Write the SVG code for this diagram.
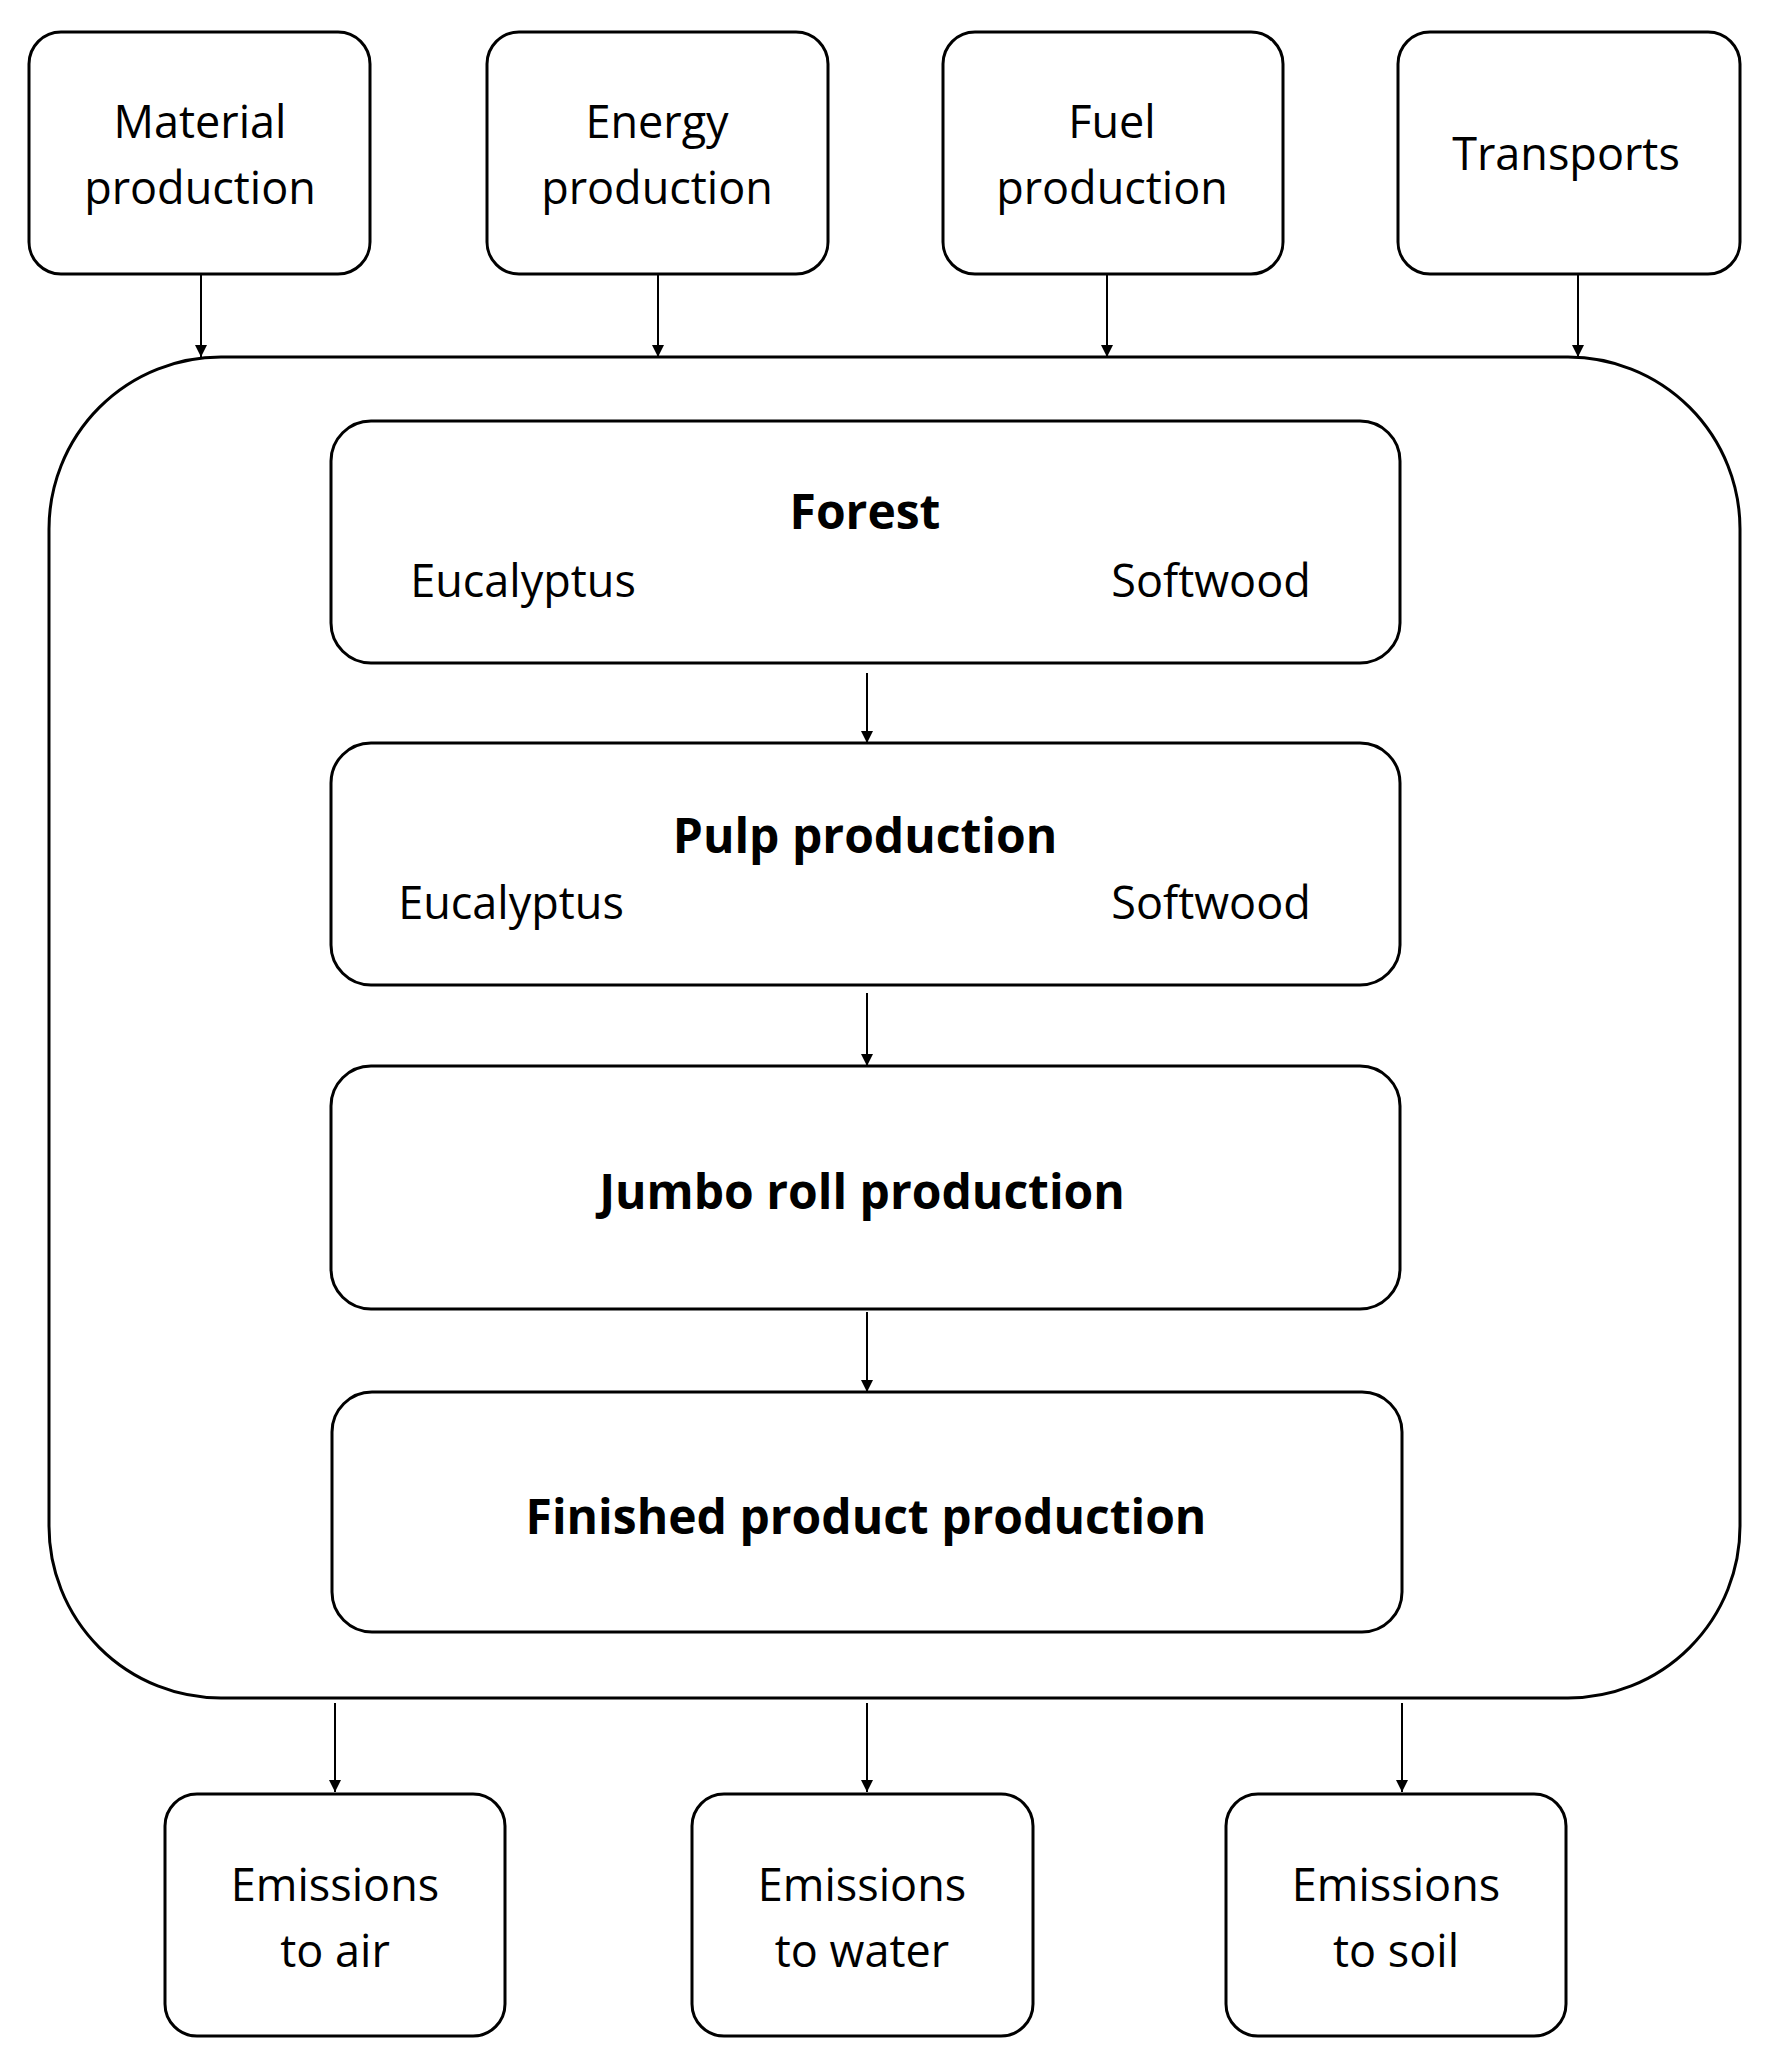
<svg xmlns="http://www.w3.org/2000/svg" width="1765" height="2059" viewBox="0 0 1765 2059">
<style>
.b{fill:#fff;stroke:#000;stroke-width:3}
.t{font-family:"Open Sans","Liberation Sans",sans-serif;font-size:45px;fill:#000;text-anchor:middle}
.h{font-weight:bold;font-size:48px}
.c line{stroke:#000;stroke-width:2;marker-end:url(#a)}
</style>
<defs><marker id="a" viewBox="0 0 10 10" refX="10" refY="5" markerWidth="12" markerHeight="12" markerUnits="userSpaceOnUse" orient="auto"><path d="M0,0L10,5L0,10z" fill="#000"/></marker>
</defs>
<rect width="1765" height="2059" fill="#fff"/>
<g id="system"><rect class="b" x="49" y="357" width="1691" height="1341" rx="172"/></g>
<g id="material"><rect class="b" x="29" y="32" width="341" height="242" rx="32"/><text class="t" x="200" y="138">Material</text><text class="t" x="200" y="204">production</text></g>
<g id="energy"><rect class="b" x="487" y="32" width="341" height="242" rx="32"/><text class="t" x="657" y="138">Energy</text><text class="t" x="657" y="204">production</text></g>
<g id="fuel"><rect class="b" x="943" y="32" width="340" height="242" rx="32"/><text class="t" x="1112" y="138">Fuel</text><text class="t" x="1112" y="204">production</text></g>
<g id="transports"><rect class="b" x="1398" y="32" width="342" height="242" rx="32"/><text class="t" x="1566" y="170">Transports</text></g>
<g id="forest"><rect class="b" x="331" y="421" width="1069" height="242" rx="40"/><text class="t h" x="865" y="529">Forest</text><text class="t" x="523" y="597">Eucalyptus</text><text class="t" x="1211" y="597">Softwood</text></g>
<g id="pulp"><rect class="b" x="331" y="743" width="1069" height="242" rx="40"/><text class="t h" x="865" y="853">Pulp production</text><text class="t" x="511" y="919">Eucalyptus</text><text class="t" x="1211" y="919">Softwood</text></g>
<g id="jumbo"><rect class="b" x="331" y="1066" width="1069" height="243" rx="40"/><text class="t h" x="862" y="1209">Jumbo roll production</text></g>
<g id="finished"><rect class="b" x="332" y="1392" width="1070" height="240" rx="40"/><text class="t h" x="866" y="1534">Finished product production</text></g>
<g id="air"><rect class="b" x="165" y="1794" width="340" height="242" rx="32"/><text class="t" x="335" y="1901">Emissions</text><text class="t" x="335" y="1967">to air</text></g>
<g id="water"><rect class="b" x="692" y="1794" width="341" height="242" rx="32"/><text class="t" x="862" y="1901">Emissions</text><text class="t" x="862" y="1967">to water</text></g>
<g id="soil"><rect class="b" x="1226" y="1794" width="340" height="242" rx="32"/><text class="t" x="1396" y="1901">Emissions</text><text class="t" x="1396" y="1967">to soil</text></g>
<g class="c" id="connectors">
<line x1="201" y1="274" x2="201" y2="357"/><line x1="658" y1="274" x2="658" y2="357"/><line x1="1107" y1="274" x2="1107" y2="357"/><line x1="1578" y1="274" x2="1578" y2="357"/>
<line x1="867" y1="673" x2="867" y2="743"/><line x1="867" y1="993" x2="867" y2="1066"/><line x1="867" y1="1312" x2="867" y2="1392"/>
<line x1="335" y1="1703" x2="335" y2="1792"/><line x1="867" y1="1703" x2="867" y2="1792"/><line x1="1402" y1="1703" x2="1402" y2="1792"/>
</g>
</svg>
